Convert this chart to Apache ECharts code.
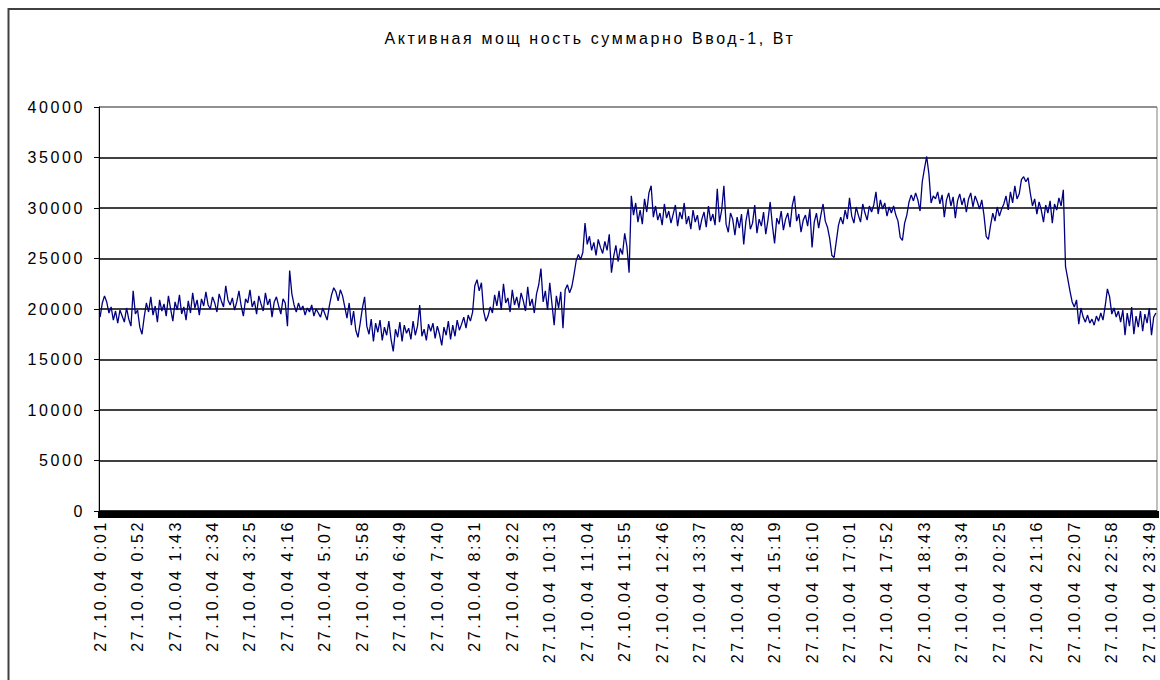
<!DOCTYPE html>
<html>
<head>
<meta charset="utf-8">
<script src="https://cdn.jsdelivr.net/npm/echarts/dist/echarts.min.js"></script>
<style>
html, body { margin: 0; padding: 0; background: #fff; }
#chart { width: 1160px; height: 680px; }
#chart svg text { letter-spacing: 2.6px; }
</style>
</head>
<body>
<div id="chart"></div>
<script>
// Title and axis texts
var titleText = 'Активная мощ ность суммарно Ввод-1, Вт';
var datePrefix = '27.10.04 ';
var startMinute = 1;   // 0:01
var stepMinutes = 3;   // one reading every 3 minutes
var yTicks = [0, 5000, 10000, 15000, 20000, 25000, 30000, 35000, 40000];

// Active power, W, 0:01 ... 5:58
var night = [
  19200, 20600, 21300, 20700, 19600, 20200, 18900, 19800, 18600, 19900,
  19300, 18700, 20100, 19000, 18300, 21800, 19500, 19900, 18200, 17500,
  19200, 20600, 19700, 21200, 19400, 20300, 18700, 20900, 19800, 20500,
  19300, 21300, 20000, 18800, 20700, 19900, 21400, 19500, 20200, 18900,
  20800, 19600, 21600, 20100, 20900, 19400, 21000, 20300, 21700, 20400,
  20000, 21200, 20600, 19700, 21500, 20800, 20200, 22300, 20900, 20400,
  21100, 19900, 20700, 21800, 20300, 19300, 21000, 20600, 21900, 20200,
  20800, 19500, 21300, 20500, 19800, 21600, 20400, 21000, 19200, 20700,
  21200, 20300, 19500, 21000, 20600, 18300, 23800, 21500, 20400, 19700,
  20600, 19900, 20300, 19400, 20100, 19700, 20400, 19300, 20000, 19600,
  19200, 20100, 19500, 18900, 20300, 21400, 22100, 21700, 20800, 21900,
  21300, 20200, 19100, 20600, 18400, 19800, 17900, 17200, 18600, 20100
];
// 6:01 ... 11:58
var morning = [
  21200, 18300, 17500, 19000, 16800, 18600, 17700, 18900, 16900, 18200,
  17400, 18800, 17000, 15800, 18000, 17200, 18700, 16800, 18400, 17600,
  18100, 17000, 18800, 17400, 18300, 20400, 17300, 18000, 16900, 18500,
  17800, 18600, 17100, 18300, 17500, 16400, 18200, 17400, 18800, 17000,
  18400, 17300, 18900, 17900, 18500, 19200, 18100, 19400, 18800, 19700,
  22300, 22900, 21800, 22600, 19800, 18800, 19300, 20200, 19600, 21400,
  20300, 21800, 19900, 22500, 20600, 21100, 19700, 21900, 20400, 21200,
  20100, 21600, 20800, 19800, 22200, 20300, 21000, 19600, 21500, 22400,
  24000, 20700, 21800, 19900, 22600, 20500, 18400, 21300, 20100, 21700,
  18100, 21900, 22400, 21600, 22200, 23400, 24800, 25400, 24900, 25600,
  28500, 26400, 27200, 25800, 26600, 25300, 26900, 26100, 25500, 26700,
  25800, 27400, 23600, 25200, 26300, 24700, 26000, 25400, 27500, 26200
];
// 12:01 ... 17:58
var day = [
  23600, 31200, 29300, 30500, 28600, 29800, 28400, 30900, 29600, 31500,
  32200, 29100, 30200, 28800, 29500, 28300, 30400, 29000, 29700, 28500,
  29400, 30300, 28200, 29600, 28900, 30500, 28400, 29200, 27900, 29800,
  28600, 29300, 27800, 28900, 29600, 28100, 30200, 28700, 29400, 28300,
  31900, 28600, 29800, 32200, 28400, 27600, 29500, 28900, 27300, 29100,
  28000, 29400, 26400, 28700, 29900, 27900, 28500, 30300, 27500, 28900,
  28200, 29600, 27400, 28800, 30600, 28300, 26500, 29000, 28400, 29700,
  27800, 28900, 29500, 28100, 30200, 31200, 28700, 29400, 27600, 28800,
  29300, 28200, 29900, 26100, 28600, 29500, 28000, 29300, 30400, 28700,
  28100, 27000, 25300, 25100, 26700, 28300, 29100, 28400, 29800, 28900,
  31000, 29200, 28500, 30100, 29300, 28600, 30400, 29500, 28800, 30200,
  29600, 30300, 31600, 29400, 30800, 29900, 30500, 29200, 30100, 29500
];
// 18:01 ... 23:58
var evening = [
  30200, 29300, 28700, 27100, 26800, 28500, 29300, 30600, 31300, 30700,
  31500, 30800, 29700, 32600, 33900, 35100, 33400, 30500, 31200, 30900,
  31600, 30400, 31300, 29100, 30800, 31500, 30200, 31100, 29000, 30700,
  31400, 30300, 31000, 29600, 30900, 31500, 30100, 31200, 30600, 29900,
  30800, 29300, 27200, 26900, 28300, 29500, 28700, 30100, 29200, 29900,
  30400, 31200, 29800, 31600, 30500, 32200, 30900, 31400, 32800, 33100,
  32600, 33000, 31500, 30200, 30900, 29400, 30600, 29800, 28600, 30300,
  29500, 30700, 28500, 30400, 29800, 31000, 30200, 31800, 24200, 23000,
  21800, 20700, 20200, 20900, 18500, 20100, 19200, 18700, 19400, 18600,
  19000, 18400, 19300, 18800, 19600, 18900, 20300, 22000, 21200, 19500,
  20100, 19200, 19800, 18700, 19900, 17400, 19600, 18300, 20200, 17500,
  19300, 18200, 19800, 17800, 19500, 18600, 20100, 17400, 19200, 19600
];

var power = night.concat(morning, day, evening);

// Category labels: 27.10.04 H:MM
var categories = [];
for (var k = 0; k < power.length; k++) {
  var m = startMinute + k * stepMinutes;
  var h = Math.floor(m / 60), mm = m % 60;
  categories.push(datePrefix + h + ':' + (mm < 10 ? '0' : '') + mm);
}

var font = 'Liberation Sans, Arial, sans-serif';
var chart = echarts.init(document.getElementById('chart'), null, { renderer: 'svg' });
chart.setOption({
  animation: false,
  backgroundColor: '#ffffff',
  title: {
    text: titleText,
    left: 590,
    top: 30,
    padding: 0,
    textAlign: 'center',
    textStyle: { fontFamily: font, fontSize: 16, fontWeight: 'normal', color: '#000' }
  },
  graphic: [{
    type: 'rect',
    silent: true,
    shape: { x: 8.5, y: 9, width: 1200, height: 700 },
    style: { fill: 'none', stroke: '#404040', lineWidth: 2 }
  }],
  grid: {
    left: 99, right: 3, top: 107, bottom: 169,
    show: true, borderColor: '#808080', borderWidth: 1, backgroundColor: 'transparent'
  },
  xAxis: {
    type: 'category',
    data: categories,
    boundaryGap: true,
    axisLine: { show: true, lineStyle: { color: '#000', width: 1 } },
    axisTick: { show: true, interval: 0, length: 7, lineStyle: { color: '#000', width: 3 } },
    axisLabel: {
      interval: 16, rotate: 90, margin: 9,
      fontFamily: font, fontSize: 16, color: '#000'
    },
    splitLine: { show: false }
  },
  yAxis: {
    type: 'value',
    min: yTicks[0],
    max: yTicks[yTicks.length - 1],
    interval: yTicks[1] - yTicks[0],
    axisLine: { show: true, lineStyle: { color: '#000', width: 1 } },
    axisTick: { show: true, length: 5, lineStyle: { color: '#000' } },
    axisLabel: {
      margin: 14, fontFamily: font, fontSize: 16, color: '#000',
      formatter: function (v) { return String(v); }
    },
    splitLine: {
      show: true,
      lineStyle: {
        color: ['#000', '#000', '#000', '#000', '#000', '#000', '#000', '#000', '#808080'],
        width: 1.5
      }
    }
  },
  series: [{
    type: 'line',
    data: power,
    symbol: 'none',
    showSymbol: false,
    lineStyle: { color: '#000080', width: 1.3 },
    z: 3
  }]
});
</script>
</body>
</html>
